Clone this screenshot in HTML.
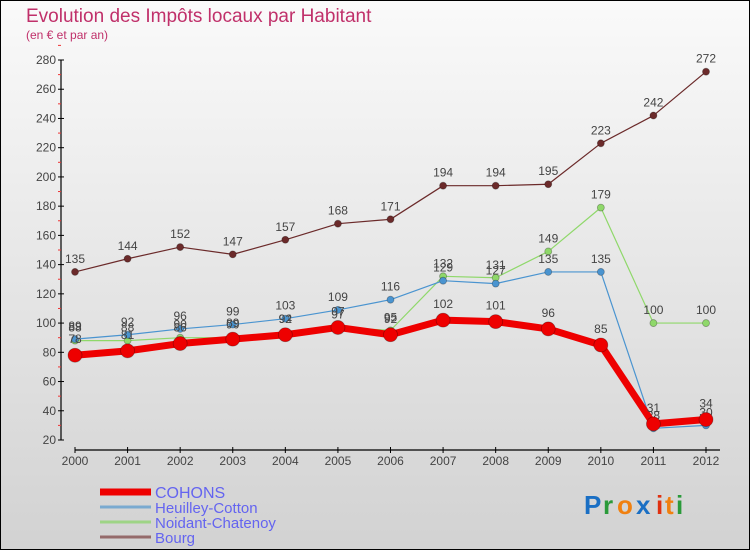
<!DOCTYPE html>
<html><head><meta charset="utf-8"><style>
body{margin:0;width:750px;height:550px;overflow:hidden;font-family:"Liberation Sans",sans-serif}
svg text{font-family:"Liberation Sans",sans-serif}
</style></head><body>
<svg id="c" width="750" height="550" xmlns="http://www.w3.org/2000/svg">
<defs><linearGradient id="bg" x1="0" y1="0" x2="0" y2="1"><stop offset="0" stop-color="#fafafa"/><stop offset="1" stop-color="#d2d2d2"/></linearGradient></defs>
<rect x="0.5" y="0.5" width="749" height="549" fill="url(#bg)" stroke="#000"/>
<text x="26" y="22" font-size="19" fill="#c0306a">Evolution des Impôts locaux par Habitant</text>
<text x="26" y="39" font-size="12" fill="#c0306a">(en € et par an)</text>
<g id="axes"></g><g id="series"></g><g id="legend"></g>
<g font-size="26" font-weight="bold">
<text x="584" y="514" fill="#1a6fc4">P</text><text x="603" y="514" fill="#2a9a3a">r</text><text x="617" y="514" fill="#f08010">o</text><text x="636" y="514" fill="#1a6fc4">x</text><text x="656" y="514" fill="#e03010">i</text><text x="665" y="514" fill="#f08010">t</text><text x="676" y="514" fill="#2a9a3a">i</text>
</g>
</svg>
<script>
const years=[2000,2001,2002,2003,2004,2005,2006,2007,2008,2009,2010,2011,2012];
const cohons=[78,81,86,89,92,97,92,102,101,96,85,31,34];
const heuilley=[89,92,96,99,103,109,116,129,127,135,135,28,30];
const noidant=[88,88,90,90,94,97,95,132,131,149,179,100,100];
const bourg=[135,144,152,147,157,168,171,194,194,195,223,242,272];
const yTicks=[20,40,60,80,100,120,140,160,180,200,220,240,260,280];
const seriesNames=["COHONS","Heuilley-Cotton","Noidant-Chatenoy","Bourg"];
const NS="http://www.w3.org/2000/svg";
const xs=i=>75+i*(706-75)/(years.length-1);
const ys=v=>440-(v-20)*380/260;
function mk(tag,attrs,parent){const e=document.createElementNS(NS,tag);for(const k in attrs)e.setAttribute(k,attrs[k]);parent.appendChild(e);return e;}
const ax=document.getElementById('axes');
let yl=mk('line',{x1:61,y1:ys(280),x2:61,y2:440,stroke:'#000','stroke-width':1.2},ax);


yTicks.forEach(t=>{
  mk('line',{x1:58,x2:64,y1:ys(t),y2:ys(t),stroke:'#000'},ax);
  mk('line',{x1:58,x2:61,y1:ys(t+10),y2:ys(t+10),stroke:'#e33'},ax);
  const tx=mk('text',{x:56,y:ys(t)+4,'font-size':12,fill:'#444','text-anchor':'end'},ax);tx.textContent=t;
  
  
});
let xl=mk('line',{x1:75,y1:450,x2:720,y2:450,stroke:'#000','stroke-width':1.2},ax);


years.forEach((y,i)=>{
  mk('line',{x1:xs(i),x2:xs(i),y1:447,y2:453,stroke:'#000'},ax);
  const tx=mk('text',{x:xs(i),y:465,'font-size':12,fill:'#444','text-anchor':'middle'},ax);tx.textContent=y;
  
  
});
const sg=document.getElementById('series');
function draw(data,color,w,r,name,labelDy){
  const g=mk('g',{},sg);
  
  
  mk('polyline',{points:data.map((v,i)=>xs(i)+','+ys(v)).join(' '),fill:'none',stroke:color,'stroke-width':w,'stroke-linejoin':'round'},g);
  data.forEach((v,i)=>{
    const c=mk('circle',{cx:xs(i),cy:ys(v),r:r,fill:color,stroke:'rgba(0,0,0,0.3)','stroke-width':0.8},g);
    
    
    const t=mk('text',{x:xs(i),y:ys(v)-labelDy,'font-size':12,fill:'#444','text-anchor':'middle'},g);t.textContent=v;
    
    
  });
}
draw(bourg,'#6b2a2a',1.2,3.5,'series-bourg',9);
draw(noidant,'#8fd86a',1.2,3.5,'series-noidant-chatenoy',9);
draw(heuilley,'#4a94d0',1.2,3.5,'series-heuilley-cotton',9);
draw(cohons,'#ee0000',7,7,'series-cohons',12);
const lg=document.getElementById('legend');
const lc=['#ee0000','#7aaad0','#9ed486','#946a6a'],lw=[7,3,3,3];
seriesNames.forEach((n,i)=>{
  const y=492+i*15;
  const g=mk('g',{},lg);
  
  
  mk('line',{x1:100,x2:151,y1:y,y2:y,stroke:lc[i],'stroke-width':lw[i]},g);
  const t=mk('text',{x:155,y:y+6,'font-size':i==0?16:15,fill:'#6464f0'},g);t.textContent=n;
});
</script>
</body></html>
